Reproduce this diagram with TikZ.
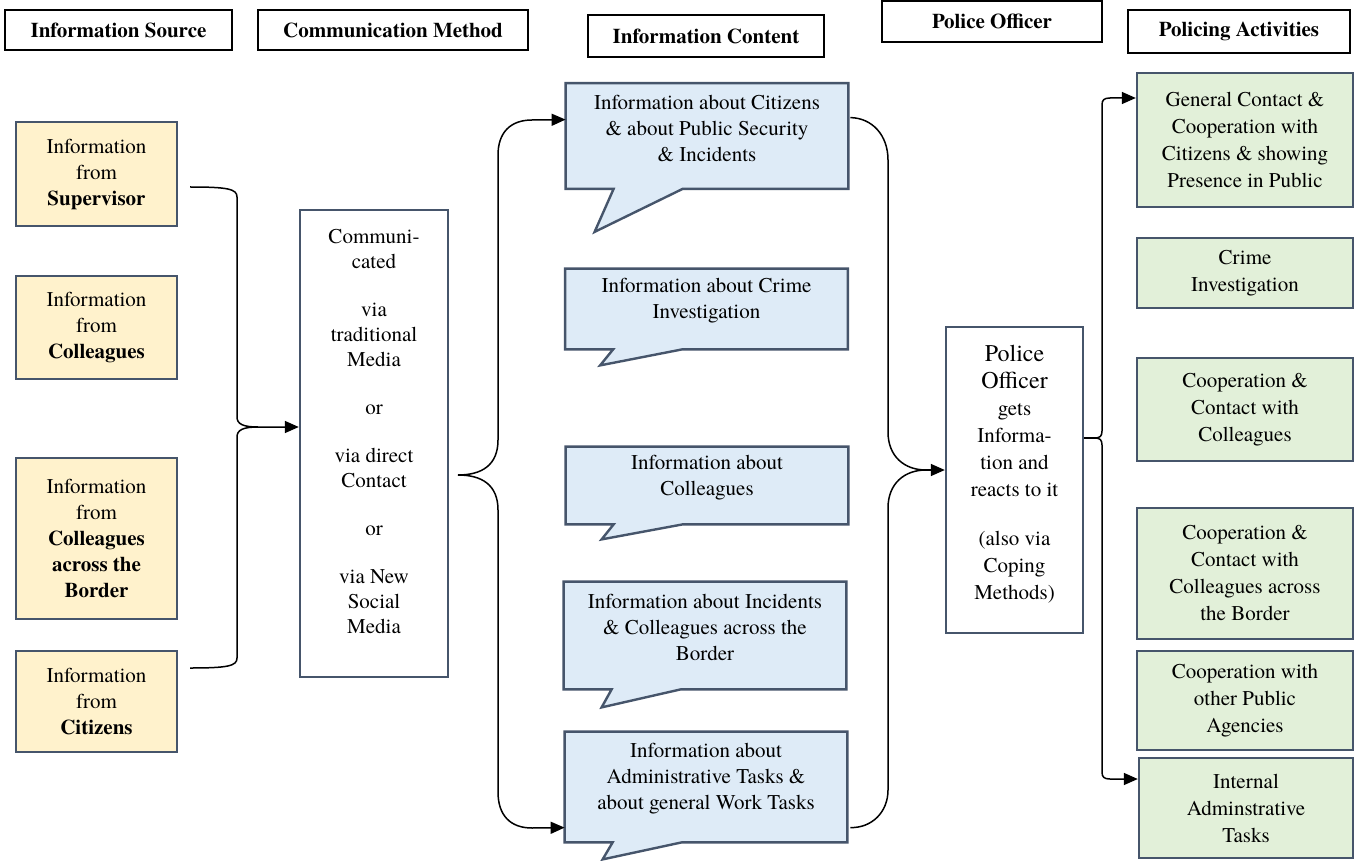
\documentclass[tikz,border=0pt]{standalone}
\usepackage{fontspec}
\setmainfont{texgyretermes}[Extension=.otf, UprightFont=*-regular, BoldFont=*-bold, ItalicFont=*-italic, BoldItalicFont=*-bolditalic]
\usetikzlibrary{arrows.meta,calc,backgrounds}
\definecolor{bordc}{HTML}{46556B}
\definecolor{yelf}{HTML}{FFF2CC}
\definecolor{bluf}{HTML}{DEEBF7}
\definecolor{grnf}{HTML}{E2F0D9}
\tikzset{
 hdr/.style={draw=black, line width=1pt, inner sep=0pt, align=center, font=\fontsize{10.5pt}{12pt}\selectfont\bfseries},
 srcbox/.style={draw=bordc, fill=yelf, line width=1.2pt, inner sep=0pt, align=center, minimum width=80.5pt, font=\fontsize{10.5pt}{13pt}\selectfont},
 plainbox/.style={draw=bordc, fill=white, line width=1.2pt, inner sep=0pt, align=center, font=\fontsize{10.5pt}{12.5pt}\selectfont},
 infotext/.style={inner sep=0pt, align=center, minimum width=141pt, font=\fontsize{10.5pt}{13pt}\selectfont},
 bubble/.style={draw=bordc, fill=bluf, line width=1.2pt, line join=miter},
 actbox/.style={draw=bordc, fill=grnf, line width=1.2pt, inner sep=0pt, align=center, minimum width=108pt, font=\fontsize{10.5pt}{13.5pt}\selectfont},
 conn/.style={draw=black, line width=0.75pt},
 arrowend/.style={-{Triangle[length=7pt,width=6pt]}}
}
\newcommand\calloutshape[3]{\path[bubble] (#1.north west) -- (#1.north east) -- ($(#1.south east)+(0,16)$) -- ($(#1.south west)+(117,16)$) -- ($(#1.south west)+(#2,#3)$) -- ($(#1.south west)+(48,16)$) -- ($(#1.south west)+(0,16)$) -- cycle;}
\newcommand\bigpo{\fontsize{12pt}{13.5pt}\selectfont}
\begin{document}
\begin{tikzpicture}[x=0.5pt,y=-0.5pt]
\useasboundingbox (0,0) rectangle (1354,861);
% headers
\node[hdr, minimum width=113.5pt, minimum height=20pt] (h1) at (118.5,30) {Information Source};
\node[hdr, minimum width=135pt, minimum height=20pt] (h2) at (393,30) {Communication Method};
\node[hdr, minimum width=118pt, minimum height=21pt] (h3) at (706,36) {Information Content};
\node[hdr, minimum width=110pt, minimum height=20.5pt] (h4) at (992,21.5) {Police Officer};
\node[hdr, minimum width=111pt, minimum height=21.5pt] (h5) at (1239,31.5) {Policing Activities};
% sources
\node[srcbox, minimum height=52pt] (s1) at (96.5,174) {Information\\from\\\textbf{Supervisor}};
\node[srcbox, minimum height=51.5pt] (s2) at (96.5,327.5) {Information\\from\\\textbf{Colleagues}};
\node[srcbox, minimum height=80.5pt] (s3) at (96.5,538.5) {Information\\from\\\textbf{Colleagues}\\\textbf{across the}\\\textbf{Border}};
\node[srcbox, minimum height=50.5pt] (s4) at (96.5,701.5) {Information\\from\\\textbf{Citizens}};
% communication
\node[plainbox, minimum width=74pt, minimum height=233.5pt] (comm) at (374,443.5) {Communi-\\cated\\[11.5pt]via\\traditional\\Media\\[11.5pt]or\\[11.5pt]via direct\\Contact\\[11.5pt]or\\[11.5pt]via New\\Social\\Media\\ \mbox{}};
% information content
\node[infotext, minimum height=44.5pt] (c1) at (707,128) {Information about Citizens\\\& about Public Security\\\& Incidents};
\node[infotext, minimum height=32pt] (c2) at (706.5,301) {Information about Crime\\Investigation};
\node[infotext, minimum height=30.5pt] (c3) at (707,477.5) {Information about\\Colleagues};
\node[infotext, minimum height=45.5pt] (c4) at (705,627.5) {Information about Incidents\\\& Colleagues across the\\Border};
\node[infotext, minimum height=47pt] (c5) at (706,779) {Information about\\Administrative Tasks \&\\about general Work Tasks};
\begin{scope}[on background layer]
\calloutshape{c1}{29}{59}
\calloutshape{c2}{35}{32}
\calloutshape{c3}{36}{31}
\calloutshape{c4}{38}{34}
\calloutshape{c5}{38}{33}
\end{scope}
% police officer
\node[plainbox, minimum width=68.5pt, minimum height=153pt, font=\fontsize{10.5pt}{13.5pt}\selectfont] (police) at (1014.5,480) {\bigpo Police\\\bigpo Officer\\gets\\Informa-\\tion and\\reacts to it\\[11pt](also via\\Coping\\Methods)\\[-6pt] \mbox{}};
% activities
\node[actbox, minimum height=67pt] (g1) at (1245,140) {General Contact \&\\Cooperation with\\Citizens \& showing\\Presence in Public};
\node[actbox, minimum height=35pt] (g2) at (1245,273) {Crime\\Investigation};
\node[actbox, minimum height=51.5pt] (g3) at (1245,409.5) {Cooperation \&\\Contact with\\Colleagues};
\node[actbox, minimum height=65.5pt] (g4) at (1245,573.5) {Cooperation \&\\Contact with\\Colleagues across\\the Border};
\node[actbox, minimum height=49.5pt] (g5) at (1245,700.5) {Cooperation with\\other Public\\Agencies};
\node[actbox, minimum width=107pt, minimum height=50pt] (g6) at (1246,808) {Internal\\Adminstrative\\Tasks};
% brace 1
\coordinate (b1t) at (190,187);
\coordinate (b1b) at (190,668);
\coordinate (b1m) at (258,427);
\draw[conn,arrowend] (b1t) .. controls (228,187) and (237,189) .. (237,197) -- (237,417) .. controls (237,424) and (243,427) .. (b1m) -- (b1m -| comm.west);
\draw[conn] (b1b) .. controls (228,668) and (237,666) .. (237,658) -- (237,437) .. controls (237,430) and (243,427) .. (b1m);
% brace 2
\coordinate (b2m) at (458,475);
\draw[conn,arrowend] (b2m) .. controls (482,475) and (498,465) .. (498,440) -- (498,155) .. controls (498,133) and (510,120) .. (532,120) -- ($(c1.north west)+(0,36.5)$);
\draw[conn,arrowend] (b2m) .. controls (482,475) and (498,485) .. (498,510) -- (498,792) .. controls (498,815) and (510,828) .. (532,828) -- ($(c5.north west)+(0,96)$);
% brace 3
\coordinate (b3m) at (926,470);
\draw[conn] ($(c1.north east)+(2,34.5)$) .. controls (872,118) and (888,135) .. (888,160) -- (888,432) .. controls (888,456) and (904,470) .. (b3m);
\draw[conn] ($(c5.north east)+(3,96)$) .. controls (872,828) and (888,812) .. (888,790) -- (888,508) .. controls (888,484) and (904,470) .. (b3m);
\draw[conn,arrowend] (b3m) -- (b3m -| police.west);
% brace 4
\coordinate (b4m) at (1095,438);
\draw[conn] ($(police.east)+(0,-42)$) -- (b4m);
\draw[conn,arrowend] (b4m) .. controls (1100,438) and (1102,436) .. (1102,431) -- (1102,105) .. controls (1102,100) and (1104,98) .. (1110,98) -- ($(g1.west)+(0,-42)$);
\draw[conn,arrowend] (b4m) .. controls (1100,438) and (1102,440) .. (1102,445) -- (1102,772) .. controls (1102,777) and (1104,779) .. (1110,779) -- ($(g6.west)+(0,-29)$);
\end{tikzpicture}
\end{document}
